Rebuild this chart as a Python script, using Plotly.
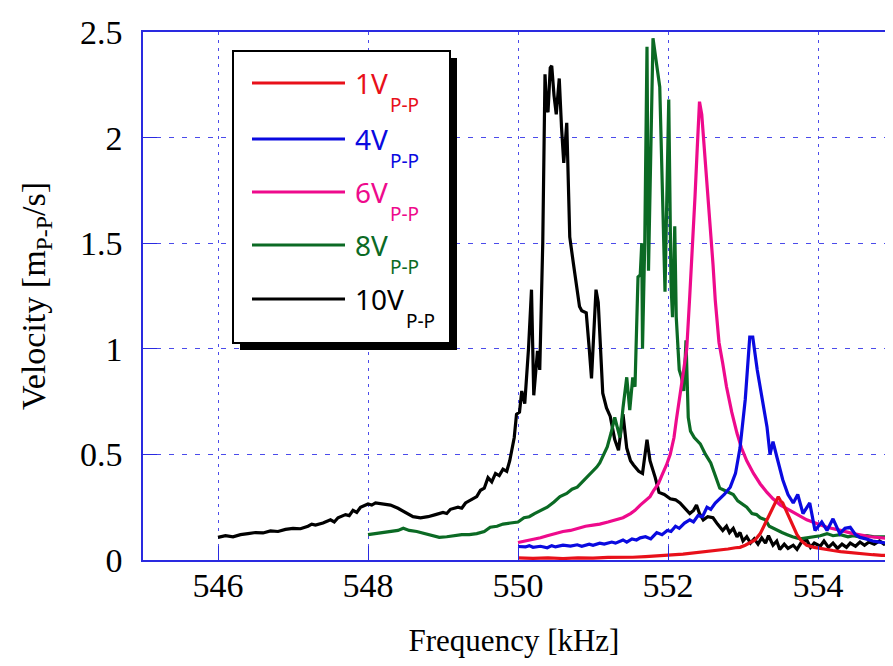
import plotly.graph_objects as go

# ---------------- data ----------------
f_10v = [546.00, 546.10, 546.20, 546.30, 546.40, 546.50, 546.60, 546.70, 546.80, 546.90,
         547.00, 547.10, 547.20, 547.25, 547.30, 547.40, 547.50, 547.55, 547.60, 547.70,
         547.75, 547.80, 547.85, 547.90, 548.00, 548.05, 548.10, 548.20, 548.30, 548.40,
         548.50, 548.60, 548.70, 548.80, 548.90, 549.00, 549.05, 549.10, 549.20, 549.25,
         549.30, 549.40, 549.45, 549.50, 549.55, 549.60, 549.65, 549.70, 549.75, 549.80,
         549.85, 549.89, 549.95, 549.98, 550.02, 550.05, 550.09, 550.14, 550.18, 550.21,
         550.26, 550.29, 550.33, 550.36, 550.38, 550.40, 550.43, 550.45, 550.48, 550.51,
         550.55, 550.58, 550.61, 550.65, 550.69, 550.74, 550.78, 550.82, 550.85, 550.91,
         550.95, 550.98, 551.04, 551.07, 551.13, 551.18, 551.23, 551.29, 551.34, 551.40,
         551.45, 551.50, 551.54, 551.61, 551.66, 551.72, 551.76, 551.83, 551.88, 551.95,
         552.03, 552.10, 552.16, 552.22, 552.29, 552.34, 552.38, 552.42, 552.47, 552.53,
         552.60, 552.66, 552.73, 552.78, 552.82, 552.87, 552.92, 552.96, 553.00, 553.05,
         553.10, 553.15, 553.20, 553.25, 553.30, 553.34, 553.40, 553.45, 553.49, 553.55,
         553.60, 553.67, 553.72, 553.78, 553.85, 553.90, 553.95, 554.03, 554.08, 554.14,
         554.20, 554.26, 554.32, 554.38, 554.43, 554.50, 554.56, 554.62, 554.68, 554.75,
         554.82, 554.88, 554.95, 555.00]
v_10v = [0.107, 0.115, 0.110, 0.120, 0.125, 0.130, 0.128, 0.138, 0.135, 0.145,
         0.150, 0.148, 0.160, 0.170, 0.165, 0.175, 0.190, 0.180, 0.200, 0.215,
         0.210, 0.235, 0.225, 0.250, 0.265, 0.260, 0.270, 0.265, 0.260, 0.245,
         0.225, 0.205, 0.200, 0.205, 0.215, 0.225, 0.220, 0.240, 0.250, 0.245,
         0.270, 0.290, 0.300, 0.330, 0.340, 0.390, 0.370, 0.410, 0.400, 0.430,
         0.420, 0.470, 0.580, 0.690, 0.700, 0.800, 0.740, 1.000, 1.280, 0.780,
         0.990, 0.900, 1.500, 2.300, 2.150, 2.120, 2.330, 2.340, 2.200, 2.110,
         2.280, 2.050, 1.880, 2.070, 1.530, 1.400, 1.290, 1.200, 1.180, 1.170,
         1.000, 0.860, 1.280, 1.220, 0.790, 0.720, 0.680, 0.570, 0.520, 0.690,
         0.530, 0.470, 0.450, 0.420, 0.410, 0.570, 0.470, 0.390, 0.320, 0.310,
         0.290, 0.285, 0.270, 0.245, 0.220, 0.235, 0.260, 0.220, 0.190, 0.205,
         0.200, 0.170, 0.140, 0.160, 0.130, 0.150, 0.110, 0.130, 0.090, 0.110,
         0.080, 0.100, 0.075, 0.105, 0.080, 0.115, 0.070, 0.090, 0.050, 0.075,
         0.055, 0.070, 0.050, 0.085, 0.095, 0.060, 0.080, 0.065, 0.090, 0.060,
         0.080, 0.055, 0.075, 0.060, 0.080, 0.065, 0.085, 0.070, 0.085, 0.075,
         0.090, 0.075, 0.085, 0.080]

f_8v = [548.00, 548.10, 548.20, 548.30, 548.40, 548.47, 548.55, 548.65, 548.75, 548.85,
        548.95, 549.05, 549.15, 549.25, 549.35, 549.45, 549.55, 549.63, 549.72, 549.80,
        549.90, 550.00, 550.08, 550.15, 550.22, 550.30, 550.39, 550.48, 550.56, 550.65,
        550.72, 550.79, 550.87, 550.94, 551.00, 551.05, 551.09, 551.14, 551.19, 551.24,
        551.29, 551.33, 551.36, 551.40, 551.45, 551.49, 551.53, 551.56, 551.60, 551.63,
        551.65, 551.66, 551.69, 551.72, 551.74, 551.80, 551.85, 551.89, 551.96, 552.01,
        552.04, 552.06, 552.09, 552.11, 552.15, 552.18, 552.21, 552.24, 552.27, 552.30,
        552.35, 552.43, 552.50, 552.57, 552.63, 552.69, 552.75, 552.80, 552.87, 552.93,
        553.00, 553.05, 553.12, 553.18, 553.23, 553.30, 553.35, 553.40, 553.45, 553.52,
        553.59, 553.66, 553.76, 553.85, 553.95, 554.03, 554.12, 554.20, 554.30, 554.40,
        554.47, 554.55, 554.65, 554.75, 554.85, 554.95, 555.00]
v_8v = [0.120, 0.125, 0.130, 0.135, 0.140, 0.150, 0.140, 0.135, 0.125, 0.115,
        0.107, 0.110, 0.115, 0.120, 0.120, 0.125, 0.135, 0.155, 0.160, 0.170,
        0.175, 0.180, 0.200, 0.205, 0.220, 0.235, 0.250, 0.275, 0.300, 0.315,
        0.335, 0.345, 0.375, 0.400, 0.420, 0.440, 0.460, 0.500, 0.535, 0.600,
        0.675, 0.620, 0.580, 0.720, 0.865, 0.710, 0.865, 0.820, 1.340, 1.350,
        1.500, 1.000, 1.500, 2.430, 1.370, 2.470, 2.350, 2.240, 1.270, 2.180,
        1.310, 1.150, 1.580, 1.150, 0.900, 0.865, 0.800, 1.040, 0.675, 0.610,
        0.580, 0.550, 0.500, 0.460, 0.400, 0.340, 0.330, 0.320, 0.310, 0.280,
        0.260, 0.250, 0.220, 0.215, 0.200, 0.190, 0.160, 0.150, 0.140, 0.130,
        0.120, 0.110, 0.100, 0.105, 0.110, 0.115, 0.125, 0.115, 0.120, 0.110,
        0.115, 0.110, 0.115, 0.110, 0.110, 0.110, 0.110]

f_6v = [550.00, 550.10, 550.20, 550.30, 550.39, 550.50, 550.60, 550.70, 550.79, 550.90,
        551.00, 551.09, 551.20, 551.30, 551.40, 551.50, 551.56, 551.63, 551.70, 551.76,
        551.81, 551.87, 551.93, 551.98, 552.03, 552.08, 552.11, 552.16, 552.20, 552.25,
        552.29, 552.33, 552.36, 552.39, 552.42, 552.45, 552.48, 552.52, 552.56, 552.60,
        552.63, 552.68, 552.73, 552.78, 552.85, 552.92, 552.98, 553.05, 553.14, 553.23,
        553.32, 553.40, 553.50, 553.63, 553.75, 553.85, 554.00, 554.12, 554.30, 554.47,
        554.70, 554.92, 555.00]
v_6v = [0.083, 0.090, 0.100, 0.105, 0.115, 0.125, 0.135, 0.140, 0.150, 0.160,
        0.165, 0.170, 0.180, 0.190, 0.200, 0.220, 0.235, 0.260, 0.280, 0.300,
        0.330, 0.360, 0.410, 0.450, 0.500, 0.580, 0.660, 0.780, 0.880, 1.000,
        1.250, 1.500, 1.720, 1.950, 2.170, 2.110, 1.970, 1.800, 1.600, 1.400,
        1.230, 1.030, 0.930, 0.820, 0.700, 0.600, 0.530, 0.470, 0.410, 0.360,
        0.320, 0.290, 0.260, 0.235, 0.210, 0.190, 0.170, 0.155, 0.140, 0.125,
        0.110, 0.100, 0.100]

f_4v = [550.00, 550.10, 550.15, 550.20, 550.30, 550.39, 550.45, 550.50, 550.60, 550.70,
        550.79, 550.85, 550.95, 551.00, 551.09, 551.15, 551.25, 551.30, 551.40, 551.45,
        551.52, 551.58, 551.63, 551.70, 551.77, 551.85, 551.92, 551.99, 552.04, 552.10,
        552.15, 552.22, 552.29, 552.34, 552.40, 552.46, 552.52, 552.57, 552.63, 552.69,
        552.75, 552.83, 552.90, 552.96, 553.03, 553.09, 553.13, 553.19, 553.25, 553.32,
        553.36, 553.40, 553.45, 553.53, 553.60, 553.67, 553.73, 553.80, 553.89, 553.96,
        554.05, 554.12, 554.20, 554.29, 554.36, 554.43, 554.50, 554.56, 554.64, 554.73,
        554.82, 554.92, 555.00]
v_4v = [0.064, 0.062, 0.068, 0.060, 0.065, 0.058, 0.068, 0.062, 0.070, 0.066,
        0.072, 0.065, 0.075, 0.070, 0.080, 0.075, 0.085, 0.080, 0.095, 0.085,
        0.100, 0.095, 0.105, 0.110, 0.100, 0.130, 0.120, 0.140, 0.135, 0.160,
        0.150, 0.175, 0.190, 0.180, 0.210, 0.205, 0.250, 0.240, 0.270, 0.290,
        0.310, 0.345, 0.410, 0.530, 0.760, 1.055, 1.055, 0.900, 0.770, 0.630,
        0.500, 0.560, 0.490, 0.380, 0.310, 0.270, 0.310, 0.220, 0.270, 0.140,
        0.180, 0.140, 0.195, 0.125, 0.150, 0.155, 0.120, 0.107, 0.100, 0.090,
        0.085, 0.080, 0.085]

f_1v = [550.00, 550.20, 550.40, 550.60, 550.80, 551.00, 551.20, 551.40, 551.53, 551.70,
        551.85, 551.99, 552.10, 552.20, 552.30, 552.43, 552.55, 552.70, 552.80, 552.90,
        552.96, 553.03, 553.09, 553.16, 553.23, 553.28, 553.32, 553.36, 553.40, 553.44,
        553.47, 553.50, 553.53, 553.58, 553.63, 553.68, 553.72, 553.78, 553.85, 553.95,
        554.03, 554.12, 554.20, 554.30, 554.47, 554.60, 554.73, 554.85, 555.00]
v_1v = [0.010, 0.008, 0.010, 0.007, 0.010, 0.009, 0.012, 0.011, 0.013, 0.016,
        0.018, 0.020, 0.025, 0.028, 0.032, 0.036, 0.040, 0.048, 0.052, 0.058,
        0.060, 0.070, 0.080, 0.095, 0.125, 0.160, 0.190, 0.220, 0.250, 0.280,
        0.300, 0.280, 0.270, 0.230, 0.190, 0.150, 0.120, 0.090, 0.070, 0.060,
        0.055, 0.047, 0.045, 0.040, 0.033, 0.030, 0.025, 0.022, 0.020]

series_names = ["1V", "4V", "6V", "8V", "10V"]
series_colors = ["#e8101a", "#0a0ae0", "#ee0a8c", "#0b6a24", "#000000"]
series_f = [f_1v, f_4v, f_6v, f_8v, f_10v]
series_v = [v_1v, v_4v, v_6v, v_8v, v_10v]

x_ticks = [546, 548, 550, 552, 554]
y_ticks = [0, 0.5, 1, 1.5, 2, 2.5]
y_tick_text = ["0", "0.5", "1", "1.5", "2", "2.5"]

# ---------------- figure ----------------
# The page has an 8px body margin; the figure is sized so that it fits the window.
fig = go.Figure()
for i in [4, 3, 2, 1, 0]:
    fig.add_trace(go.Scatter(x=series_f[i], y=series_v[i], mode="lines",
                             line=dict(color=series_colors[i], width=3.2),
                             name=series_names[i] + "<sub>P-P</sub>",
                             showlegend=False))

GRID = "rgba(30,30,230,0.8)"
AX = "#2a2ae0"
serif = "Liberation Serif, Times New Roman, serif"

X_RIGHT = 545 + 742 / 75.0  # plot right edge sits at the window edge

fig.update_layout(
    width=877, height=650,
    margin=dict(l=135, r=0, t=24, b=98),
    paper_bgcolor="white", plot_bgcolor="white",
    font=dict(family=serif, color="black"),
    xaxis=dict(range=[545, X_RIGHT], tickvals=x_ticks, ticktext=[str(t) for t in x_ticks],
               ticks="inside", ticklen=14, tickcolor=AX, tickwidth=1,
               showline=True, linecolor=AX, linewidth=1.5, mirror=True,
               showgrid=True, gridcolor=GRID, gridwidth=1, griddash="3px,5px",
               zeroline=False, tickfont=dict(family=serif, size=34, color="black"),
               ticklabelstandoff=-6, automargin=False,
               title=dict(text="Frequency [kHz]", font=dict(family=serif, size=31), standoff=41)),
    yaxis=dict(range=[0, 2.5], tickvals=y_ticks, ticktext=y_tick_text,
               ticks="inside", ticklen=14, tickcolor=AX, tickwidth=1,
               showline=True, linecolor=AX, linewidth=1.5, mirror=False,
               showgrid=True, gridcolor=GRID, gridwidth=1, griddash="5px,8px",
               zeroline=False, tickfont=dict(family=serif, size=34, color="black"),
               ticklabelstandoff=12, automargin=False,
               title=dict(text="Velocity [m<sub>P-P</sub>/s]", font=dict(family=serif, size=34), standoff=24)),
)

# ---------------- custom legend (box with shadow) ----------------
PL, PR, PT, PB = 143.0, 885.0, 32.0, 560.0   # plot area in window pixels
def px(x):
    return (x - PL) / (PR - PL)
def py(y):
    return (PB - y) / (PB - PT)

shapes = []
shapes.append(dict(type="rect", xref="paper", yref="paper",
                   x0=px(240), x1=px(457), y0=py(350), y1=py(58),
                   fillcolor="black", line=dict(width=0), layer="above"))
shapes.append(dict(type="rect", xref="paper", yref="paper",
                   x0=px(233), x1=px(450), y0=py(343), y1=py(51),
                   fillcolor="white", line=dict(color="black", width=2), layer="above"))
legend_y = [83, 139, 192, 245, 299]
sub_x = [389, 389, 389, 389, 405]
annotations = []
sans = "Noto Sans, sans-serif"
for k in range(5):
    yy = legend_y[k]
    shapes.append(dict(type="line", xref="paper", yref="paper",
                       x0=px(252), x1=px(345), y0=py(yy), y1=py(yy),
                       line=dict(color=series_colors[k], width=3), layer="above"))
    annotations.append(dict(xref="paper", yref="paper", x=px(354), y=py(yy),
                            xanchor="left", yanchor="middle", showarrow=False,
                            text=series_names[k], borderpad=0,
                            font=dict(family=sans, size=28, color=series_colors[k])))
    annotations.append(dict(xref="paper", yref="paper", x=px(sub_x[k]), y=py(yy + 22),
                            xanchor="left", yanchor="middle", showarrow=False,
                            text="P-P", borderpad=0,
                            font=dict(family=sans, size=19, color=series_colors[k])))

fig.update_layout(shapes=shapes, annotations=annotations)

fig.write_html("out.html")
